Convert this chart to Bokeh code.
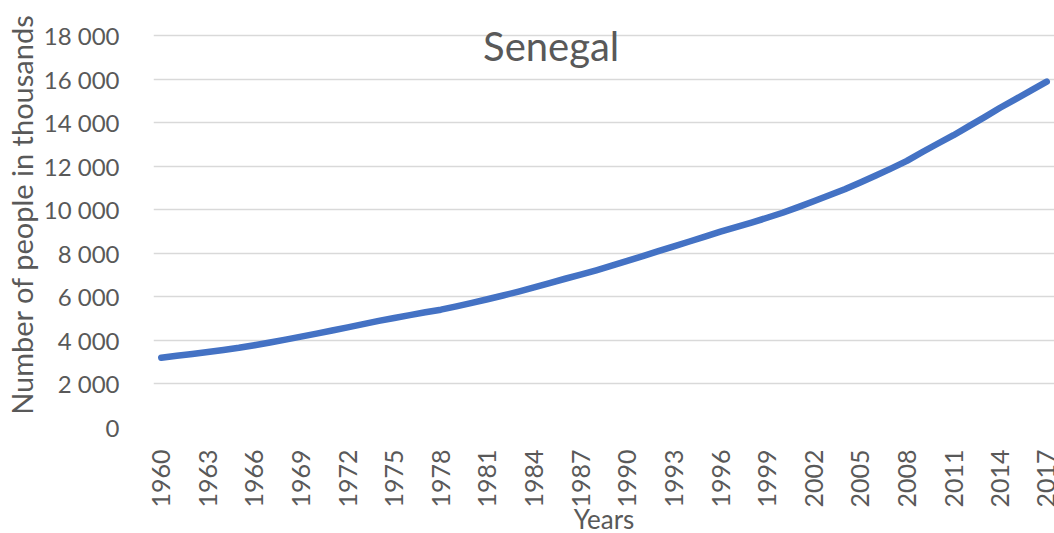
import math
from bokeh.plotting import figure
from bokeh.models import FixedTicker, Range1d, Label
from bokeh.embed import file_html
from bokeh.resources import INLINE

# ---- data ----
years = list(range(1960, 2018))
population = [
    3205, 3290, 3375, 3465, 3560, 3660, 3780, 3905, 4035, 4170,   # 1960-1969
    4310, 4455, 4600, 4745, 4895, 5030, 5160, 5290, 5410, 5560,   # 1970-1979
    5720, 5890, 6060, 6240, 6430, 6630, 6830, 7020, 7220, 7430,   # 1980-1989
    7650, 7870, 8100, 8320, 8540, 8760, 8990, 9200, 9410, 9630,   # 1990-1999
    9860, 10120, 10390, 10660, 10940, 11250, 11570, 11900, 12240, 12650,  # 2000-2009
    13040, 13420, 13840, 14250, 14680, 15080, 15480, 15880,       # 2010-2017
]
x_ticks = list(range(1960, 2018, 3))
y_ticks = [0, 2000, 4000, 6000, 8000, 10000, 12000, 14000, 16000, 18000]
y_tick_labels = ["0", "2 000", "4 000", "6 000", "8 000", "10 000",
                 "12 000", "14 000", "16 000", "18 000"]
title_text = "Senegal"
x_label = "Years"
y_label = "Number of people in thousands"

FONT = "Lato"
TXT = "#595959"

# y range runs a little above the last tick so the title (drawn over the
# plot area, as in the reference) is not clipped
p = figure(frame_width=901, frame_height=426, output_backend="svg",
           toolbar_location=None,
           x_range=Range1d(1959.5, 2017.5), y_range=Range1d(0, 19560),
           min_border_left=141, min_border_top=1, min_border_right=0,
           min_border_bottom=0)

p.outline_line_color = None
p.background_fill_color = "white"
p.border_fill_color = "white"

p.line(years, population, line_color="#4472C4", line_width=6.5,
       line_cap="round", line_join="round")

# x axis
xa = p.xaxis[0]
xa.ticker = FixedTicker(ticks=x_ticks)
xa.major_label_orientation = math.pi / 2
xa.axis_line_color = None
xa.major_tick_line_color = None
xa.minor_tick_line_color = None
xa.major_label_text_font = FONT
xa.major_label_text_font_size = "25px"
xa.major_label_text_color = TXT
xa.major_label_standoff = 16
xa.axis_label = x_label
xa.axis_label_text_font = FONT
xa.axis_label_text_font_size = "26px"
xa.axis_label_text_font_style = "normal"
xa.axis_label_text_color = TXT
xa.axis_label_standoff = -8

# y axis
ya = p.yaxis[0]
ya.ticker = FixedTicker(ticks=y_ticks)
ya.major_label_overrides = dict(zip(y_ticks, y_tick_labels))
ya.axis_line_color = None
ya.major_tick_line_color = None
ya.minor_tick_line_color = None
ya.major_label_text_font = FONT
ya.major_label_text_font_size = "24px"
ya.major_label_text_color = TXT
ya.major_label_standoff = 28
ya.axis_label = y_label
ya.axis_label_text_font = FONT
ya.axis_label_text_font_size = "29px"
ya.axis_label_text_font_style = "normal"
ya.axis_label_text_color = TXT
ya.axis_label_standoff = 2

p.xgrid.grid_line_color = None
p.ygrid.grid_line_color = "#D9D9D9"
p.ygrid.grid_line_width = 1.5

p.add_layout(Label(x=1985.1, y=17500, text=title_text, text_align="center",
                   text_baseline="alphabetic", text_font=FONT,
                   text_font_size="40px", text_color=TXT))

open("out.html", "w").write(file_html(p, INLINE))
